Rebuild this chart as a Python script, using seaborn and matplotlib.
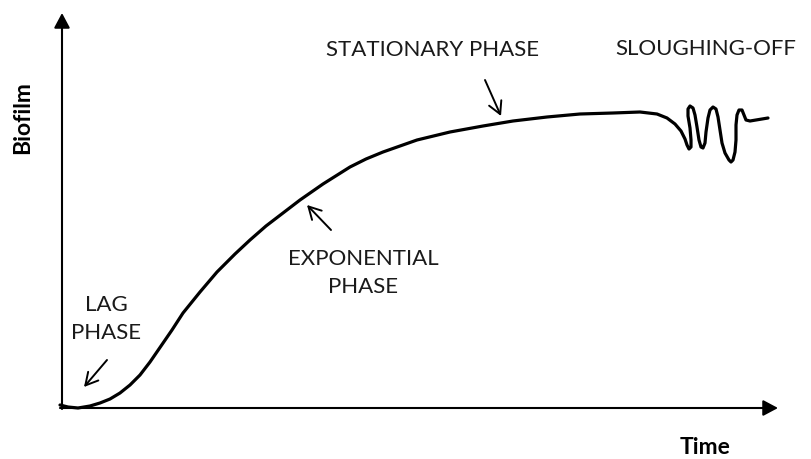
import numpy as np
import pandas as pd
import seaborn as sns
from matplotlib import pyplot as plt

# growth curve (time, biofilm in arbitrary units)
time = [-2, 6, 16, 28, 38, 48, 58, 68, 78, 88, 99, 110, 121, 138, 155, 173,
        188, 204, 221, 238, 261, 288, 304, 321, 338, 355, 388, 421, 451, 485,
        518, 551, 578,
        # sloughing-off squiggle
        595, 605, 613, 619, 623, 625, 627, 629, 629, 628, 626, 626, 628, 631,
        633, 635, 637, 639, 641, 643, 644, 646, 648, 651, 654, 656, 658, 660,
        663, 667, 669, 671, 673, 674, 674, 675, 677, 680, 682, 684, 688, 694,
        706]
biofilm = [3, 1, 0, 2, 5, 9, 15, 23, 33, 46, 62, 78, 95, 116, 136, 154,
           168, 182, 195, 208, 224, 241, 249, 256, 262, 268, 276, 282, 287, 291,
           294, 295, 296,
           294, 290, 284, 277, 269, 263, 259, 261, 268, 280, 292, 299, 302, 300,
           293, 281, 268, 261, 260, 265, 276, 290, 298, 301, 299, 291, 278, 265,
           255, 248, 246, 248, 256, 268, 283, 293, 298, 298, 293, 288, 287, 288,
           290]

# phase labels: text, x, y
labels = ['STATIONARY PHASE', 'SLOUGHING-OFF', 'EXPONENTIAL\nPHASE', 'LAG\nPHASE']
label_x = [371, 644, 301, 44]
label_y = [358, 359, 135, 89]

# pointer arrows: tail -> head
arrow_tail = [(423, 328), (269, 178), (45, 48)]
arrow_head = [(439, 292), (245, 203), (22, 21)]

df = pd.DataFrame({'time': time, 'biofilm': biofilm})

sns.set_theme(style='white')
plt.rcParams['font.family'] = ['Lato', 'DejaVu Sans']

fig = plt.figure(figsize=(8.11, 4.59), dpi=100)
ax = fig.add_axes([0, 0, 1, 1])

sns.lineplot(data=df, x='time', y='biofilm', sort=False, estimator=None,
             color='black', lw=2.3, ax=ax)
ax.lines[-1].set_solid_joinstyle('round')
ax.lines[-1].set_solid_capstyle('round')

# axes with arrow heads
ax.annotate('', xy=(0, 395), xytext=(0, -1),
            arrowprops=dict(arrowstyle='-|>,head_length=0.45,head_width=0.24',
                            mutation_scale=20, lw=1.5, color='black',
                            shrinkA=0, shrinkB=0))
ax.annotate('', xy=(716, 0), xytext=(-2, 0),
            arrowprops=dict(arrowstyle='-|>,head_length=0.45,head_width=0.24',
                            mutation_scale=20, lw=1.5, color='black',
                            shrinkA=0, shrinkB=0))

for t, h in zip(arrow_tail, arrow_head):
    ax.annotate('', xy=h, xytext=t,
                arrowprops=dict(arrowstyle='->,head_length=0.55,head_width=0.3',
                                mutation_scale=16, lw=1.4, color='black',
                                shrinkA=0, shrinkB=0))

for s, x, y in zip(labels, label_x, label_y):
    ax.text(x, y, s, ha='center', va='center', fontsize=16,
            color='#1a1a1a', linespacing=1.45)

ax.text(-39, 290, 'Biofilm', rotation=90, ha='center', va='center',
        fontsize=16.5, fontweight='bold', color='black')
ax.text(643, -39, 'Time', ha='center', va='center',
        fontsize=16.5, fontweight='bold', color='black')

ax.set_xlim(-62, 749)
ax.set_ylim(-51, 408)
ax.set_axis_off()
ax.set_xlabel('')
ax.set_ylabel('')

plt.savefig('out.png', dpi=100)
